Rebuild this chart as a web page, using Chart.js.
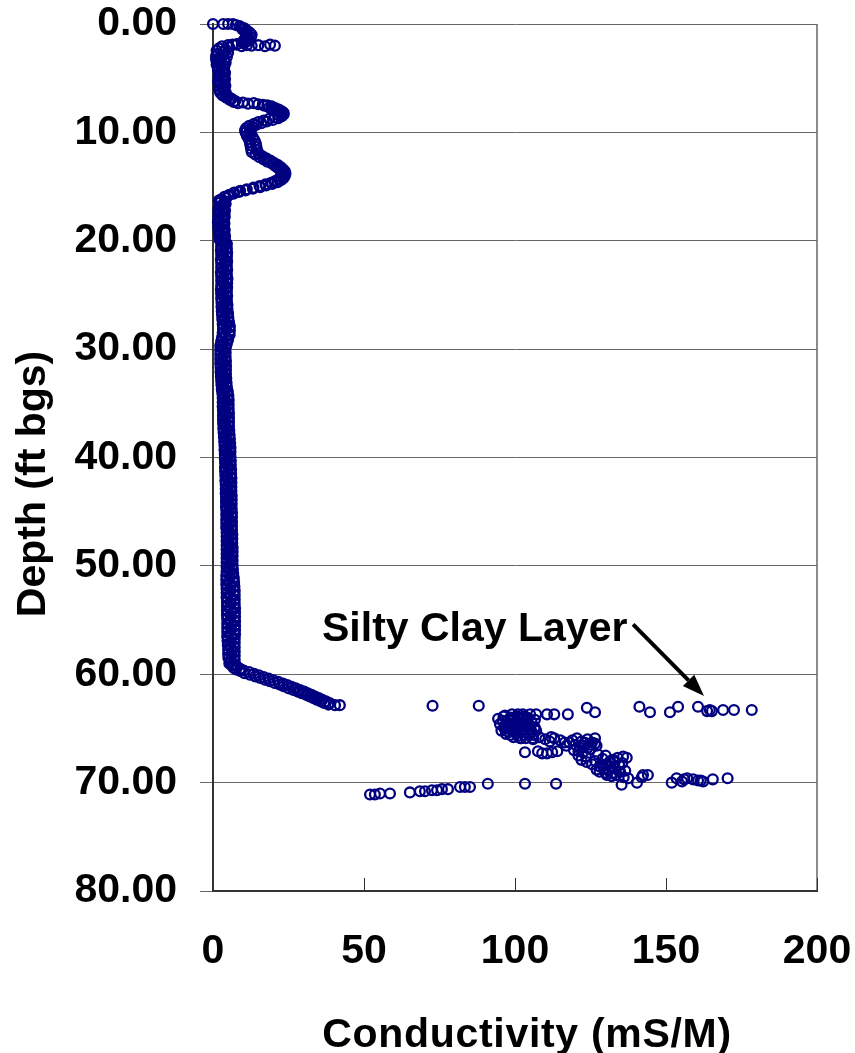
<!DOCTYPE html>
<html>
<head>
<meta charset="utf-8">
<title>Conductivity vs Depth</title>
<script src="https://cdn.jsdelivr.net/npm/chart.js@4.4.1/dist/chart.umd.min.js"></script>
<style>
  html, body { margin: 0; padding: 0; background: #fff; }
  canvas { display: block; }
</style>
</head>
<body>
<canvas id="logChart" width="855" height="1053"></canvas>
<script>
// [conductivity (mS/M), depth (ft bgs)]
const upperTrace = [
  [0.0,0.00],[3.4,0.00],[5.0,0.00],[6.6,0.00],[7.6,0.10],[8.8,0.20],[9.4,0.30],[10.4,0.40],[9.8,0.50],[11.2,0.60],
  [10.6,0.70],[12.2,0.80],[11.0,0.90],[12.8,1.00],[11.4,1.10],[12.6,1.20],[10.8,1.30],[12.0,1.40],[10.2,1.50],[11.4,1.60],
  [9.6,1.70],[10.2,1.80],[8.0,1.85],[6.5,1.90],
  [7.8,1.90],[9.5,2.05],[11.2,1.95],[12.8,2.00],[15.0,1.95],[17.2,2.05],[18.9,1.90],[20.5,2.00],
  [5.0,1.95],[3.0,2.05],[5.4,2.15],[2.0,2.25],[4.2,2.35],[1.2,2.45],[3.4,2.55],[5.0,2.65],[1.6,2.75],[3.6,2.85],
  [1.0,2.95],[4.6,3.05],[2.4,3.15],[1.0,3.25],[3.8,3.35],[1.6,3.45],[4.2,3.55],[2.2,3.65],[1.2,3.75],[3.8,3.85],
  [2.0,3.95],[3.6,4.10],[1.8,4.25],[3.4,4.40],[2.2,4.55],[3.8,4.70],[2.0,4.85],[3.4,5.00],[1.8,5.15],[3.6,5.30],
  [2.2,5.45],[3.8,5.60],[2.0,5.75],[3.4,5.90],[2.0,6.05],[3.6,6.20],[2.4,6.35],[4.0,6.50],[3.2,6.60],[5.0,6.70],
  [1.6,4.20],[4.0,4.50],[1.8,4.80],[4.0,5.10],[1.7,5.40],[4.1,5.70],[1.9,6.00],[4.2,6.30],
  [4.4,6.80],[6.2,6.90],[5.6,7.00],[7.4,7.10],[6.8,7.20],
  [8.3,7.30],[9.9,7.25],[11.6,7.35],[13.5,7.30],[15.0,7.40],[16.5,7.45],
  [18.0,7.50],[17.0,7.55],[19.4,7.60],[18.6,7.70],[20.6,7.75],[19.8,7.85],[21.8,7.90],[21.0,8.00],[22.8,8.05],[22.0,8.15],
  [23.4,8.20],[22.4,8.30],[23.4,8.35],[21.8,8.45],[22.8,8.50],[20.4,8.60],[21.6,8.70],[18.6,8.75],[19.8,8.85],[16.8,8.90],
  [17.8,9.00],[15.0,9.05],[16.0,9.15],[13.6,9.20],[14.4,9.30],[12.0,9.40],[13.2,9.50],[11.0,9.60],[12.4,9.70],[10.6,9.80],
  [12.2,9.90],[10.8,10.00],[12.6,10.15],[11.2,10.30],[13.2,10.45],[11.8,10.60],[13.8,10.75],[12.2,10.90],[14.2,11.05],[12.4,11.20],
  [14.4,11.35],[12.6,11.50],[14.6,11.65],[12.8,11.80],[15.2,11.95],[14.0,12.05],[16.4,12.20],[15.4,12.30],[17.6,12.40],[16.8,12.50],
  [19.0,12.60],[18.0,12.70],[20.2,12.80],[19.6,12.90],[21.4,13.00],[20.6,13.10],[22.4,13.20],[21.6,13.30],[23.2,13.40],[22.4,13.50],
  [23.8,13.60],[22.8,13.70],[24.0,13.80],[23.0,13.90],[23.8,14.00],[22.4,14.10],[23.4,14.20],[21.8,14.30],[22.6,14.40],[20.6,14.50],
  [21.4,14.60],[19.2,14.65],[19.6,14.75],[17.4,14.80],[17.6,14.90],[15.4,14.95],[15.6,15.05],[13.4,15.10],[13.2,15.20],[11.2,15.25],
  [10.8,15.35],[9.0,15.40],[8.6,15.50],[7.0,15.55],[6.8,15.65],[5.4,15.75],[5.0,15.85],[3.8,15.95],[4.4,16.05],[2.6,16.20],
  [4.0,16.35],[2.2,16.50],[3.8,16.65],[2.4,16.80],[3.6,16.95],[1.8,17.10],[3.4,17.25],[2.2,17.40],[3.8,17.55],[1.8,17.70],
  [3.4,17.85],[2.0,18.00],[3.6,18.15],[1.6,18.30],[3.2,18.45],[2.0,18.60],[3.6,18.75],[1.8,18.90],[3.4,19.05],[2.0,19.20],
  [3.8,19.35],[2.0,19.50],[3.4,19.65],[2.2,19.80],[3.8,19.95],
  [1.9,16.30],[4.2,16.60],[2.0,16.90],[4.0,17.20],[1.8,17.50],[3.9,17.80],[1.7,18.10],[3.8,18.40],[1.8,18.70],[3.9,19.00],
  [2.0,19.30],[4.0,19.60],[2.2,19.90]
];

const middleTrace = [
  [2.8,20.0],[4.4,20.2],[3.6,20.4],[2.8,20.6],[4.4,20.8],[3.4,21.0],[2.9,21.2],[4.5,21.4],[3.6,21.6],[2.8,21.8],
  [4.4,22.0],[3.7,22.2],[2.9,22.4],[4.5,22.6],[3.6,22.8],[2.8,23.0],[4.4,23.2],[3.5,23.4],[2.9,23.6],[4.6,23.8],
  [3.7,24.0],[2.9,24.2],[4.5,24.4],[3.6,24.6],[2.8,24.8],[4.4,25.0],[3.6,25.2],[2.9,25.4],[4.5,25.6],[3.7,25.8],
  [3.0,26.0],[4.6,26.2],[3.8,26.4],[3.0,26.6],[4.8,26.8],[3.9,27.0],[3.2,27.2],[5.0,27.4],[4.2,27.6],[3.4,27.8],
  [5.4,28.0],[4.4,28.2],[3.4,28.4],[5.4,28.6],[4.2,28.8],[3.2,29.0],[4.8,29.2],[3.6,29.4],[2.7,29.6],[4.2,29.8],
  [3.3,30.0],[2.6,30.2],[4.0,30.4],[3.3,30.6],[2.6,30.8],[4.0,31.0],[3.2,31.2],[2.6,31.4],[4.1,31.6],[3.3,31.8],
  [2.7,32.0],[4.1,32.2],[3.4,32.4],[2.8,32.6],[4.2,32.8],[3.5,33.0],[2.9,33.2],[4.4,33.4],[3.7,33.6],[3.1,33.8],
  [4.7,34.0],[3.9,34.2],[3.3,34.4],[4.9,34.6],[4.1,34.8],[3.4,35.0],[5.0,35.2],[4.2,35.4],[3.4,35.6],[5.0,35.8],
  [4.2,36.0],[3.5,36.2],[5.1,36.4],[4.2,36.6],[3.4,36.8],[5.0,37.0],[4.3,37.2],[3.6,37.4],[5.2,37.6],[4.4,37.8],
  [3.7,38.0],[5.3,38.2],[4.5,38.4],[3.9,38.6],[5.5,38.8],[4.7,39.0],[4.0,39.2],[5.6,39.4],[4.8,39.6],[4.0,39.8],
  [5.6,40.0],[4.8,40.2],[4.1,40.4],[5.6,40.6],[4.9,40.8],[4.1,41.0],[5.7,41.2],[4.9,41.4],[4.2,41.6],[5.8,41.8],
  [5.0,42.0],[4.2,42.2],[5.8,42.4],[5.0,42.6],[4.3,42.8],[5.8,43.0],[5.1,43.2],[4.3,43.4],[5.9,43.6],[5.1,43.8],
  [4.4,44.0],[5.9,44.2],[5.2,44.4],[4.4,44.6],[5.9,44.8],[5.2,45.0],[4.5,45.2],[6.0,45.4],[5.2,45.6],[4.5,45.8],
  [6.0,46.0],[5.3,46.2],[4.5,46.4],[6.0,46.6],[5.3,46.8],[4.6,47.0],[6.1,47.2],[5.3,47.4],[4.6,47.6],[6.1,47.8],
  [5.4,48.0],[4.7,48.2],[6.2,48.4],[5.4,48.6],[4.7,48.8],[6.2,49.0],[5.5,49.2],[4.7,49.4],[6.2,49.6],[5.5,49.8],
  [4.7,50.0],[6.3,50.2],[5.5,50.4],[4.7,50.6],[6.4,50.8],[5.6,51.0],[4.6,51.2],[6.6,51.4],[5.6,51.6],[4.6,51.8],
  [6.8,52.0],[5.7,52.2],[4.7,52.4],[6.9,52.6],[5.8,52.8],[4.7,53.0],[7.0,53.2],[5.8,53.4],[4.8,53.6],[7.0,53.8],
  [5.9,54.0],[4.8,54.2],[7.0,54.4],[5.9,54.6],[4.8,54.8],[7.0,55.0],[5.9,55.2],[4.9,55.4],[7.1,55.6],[6.0,55.8],
  [4.9,56.0],[7.0,56.2],[6.0,56.4],[4.9,56.6],[7.0,56.8],[5.9,57.0],[5.0,57.2],[7.0,57.4],[6.0,57.6],[5.2,57.8],
  [7.0,58.0],[6.1,58.2],[5.2,58.4],[7.0,58.6],[6.1,58.8]
];

// the in-between readings that give the trace its width
const middleSpread = [
  [2.6,20.1],[4.6,20.3],[2.7,20.5],[4.6,20.7],[2.6,20.9],[4.7,21.1],[2.7,21.3],[4.6,21.5],[2.6,21.7],[4.7,21.9],
  [2.7,22.1],[4.6,22.3],[2.7,22.5],[4.7,22.7],[2.6,22.9],[4.6,23.1],[2.7,23.3],[4.8,23.5],[2.7,23.7],[4.7,23.9],
  [2.7,24.1],[4.7,24.3],[2.6,24.5],[4.6,24.7],[2.7,24.9],[4.7,25.1],[2.7,25.3],[4.6,25.5],[2.8,25.7],[4.8,25.9],
  [2.8,26.1],[4.8,26.3],[2.9,26.5],[5.0,26.7],[3.0,26.9],[5.1,27.1],[3.1,27.3],[5.3,27.5],[3.2,27.7],[5.6,27.9],
  [3.3,28.1],[5.6,28.3],[3.2,28.5],[5.5,28.7],[3.0,28.9],[5.0,29.1],[2.7,29.3],[4.6,29.5],[2.4,29.7],[4.2,29.9],
  [2.4,30.1],[4.2,30.3],[2.4,30.5],[4.2,30.7],[2.4,30.9],[4.3,31.1],[2.4,31.3],[4.3,31.5],[2.5,31.7],[4.3,31.9],
  [2.5,32.1],[4.3,32.3],[2.6,32.5],[4.4,32.7],[2.7,32.9],[4.5,33.1],[2.8,33.3],[4.6,33.5],[2.9,33.7],[4.9,33.9],
  [3.1,34.1],[5.1,34.3],[3.2,34.5],[5.2,34.7],[3.2,34.9],[5.2,35.1],[3.2,35.3],[5.2,35.5],[3.3,35.7],[5.3,35.9],
  [3.3,36.1],[5.3,36.3],[3.3,36.5],[5.3,36.7],[3.4,36.9],[5.3,37.1],[3.4,37.3],[5.4,37.5],[3.5,37.7],[5.5,37.9],
  [3.6,38.1],[5.6,38.3],[3.7,38.5],[5.7,38.7],[3.8,38.9],[5.8,39.1],[3.8,39.3],[5.8,39.5],[3.9,39.7],[5.8,39.9],
  [3.9,40.1],[5.9,40.3],[4.0,40.5],[5.9,40.7],[4.0,40.9],[6.0,41.1],[4.0,41.3],[6.0,41.5],[4.1,41.7],[6.1,41.9],
  [4.1,42.1],[6.1,42.3],[4.2,42.5],[6.1,42.7],[4.2,42.9],[6.1,43.1],[4.2,43.3],[6.2,43.5],[4.3,43.7],[6.2,43.9],
  [4.3,44.1],[6.2,44.3],[4.3,44.5],[6.2,44.7],[4.4,44.9],[6.3,45.1],[4.4,45.3],[6.3,45.5],[4.4,45.7],[6.3,45.9],
  [4.4,46.1],[6.3,46.3],[4.4,46.5],[6.3,46.7],[4.5,46.9],[6.4,47.1],[4.5,47.3],[6.4,47.5],[4.5,47.7],[6.4,47.9],
  [4.5,48.1],[6.5,48.3],[4.5,48.5],[6.5,48.7],[4.5,48.9],[6.5,49.1],[4.5,49.3],[6.5,49.5],[4.5,49.7],[6.5,49.9],
  [4.5,50.1],[6.6,50.3],[4.5,50.5],[6.7,50.7],[4.4,50.9],[6.9,51.1],[4.4,51.3],[7.0,51.5],[4.4,51.7],[7.1,51.9],
  [4.5,52.1],[7.2,52.3],[4.5,52.5],[7.2,52.7],[4.5,52.9],[7.2,53.1],[4.6,53.3],[7.2,53.5],[4.6,53.7],[7.3,53.9],
  [4.6,54.1],[7.3,54.3],[4.6,54.5],[7.3,54.7],[4.7,54.9],[7.3,55.1],[4.7,55.3],[7.3,55.5],[4.7,55.7],[7.3,55.9],
  [4.7,56.1],[7.3,56.3],[4.7,56.5],[7.2,56.7],[4.8,56.9],[7.2,57.1],[4.9,57.3],[7.2,57.5],[5.0,57.7],[7.2,57.9],
  [5.0,58.1],[7.2,58.3],[5.1,58.5],[7.2,58.7],[5.6,58.9]
];

const rampTrace = [
  [5.4,59.00],[7.2,59.10],[6.2,59.20],[8.0,59.30],[6.8,59.40],[9.0,59.50],[7.6,59.55],[10.2,59.65],[9.0,59.70],[12.0,59.80],
  [10.4,59.90],[13.6,59.95],[12.2,60.05],[15.2,60.10],[14.0,60.20],[16.8,60.25],[15.6,60.35],[18.4,60.40],[17.2,60.50],[20.0,60.55],
  [18.8,60.65],[21.6,60.70],[20.4,60.80],[23.2,60.85],[22.0,60.95],[24.6,61.00],[23.4,61.10],[26.0,61.15],[25.0,61.30],[27.4,61.30],
  [26.6,61.45],[28.8,61.45],[28.0,61.60],[30.2,61.60],[29.4,61.75],[31.4,61.75],[30.8,61.90],[32.6,61.90],[32.0,62.05],[33.8,62.05],
  [33.2,62.20],[35.0,62.20],[34.4,62.35],[36.2,62.35],[35.6,62.50],[37.4,62.50],[36.8,62.65],[38.6,62.65],[38.2,62.80],[40.4,62.85],
  [42.0,62.85]
];

const clayLayer = [
  [72.7,62.9],[88.0,62.9],[123.8,63.1],[126.5,63.5],[141.2,63.0],[144.7,63.5],[151.3,63.5],[154.0,63.0],[160.6,63.0],[163.6,63.4],
  [164.5,63.3],[165.2,63.4],[168.9,63.3],[172.5,63.3],[178.4,63.3],
  [94.4,64.1],[96.7,63.8],[99.0,63.7],[101.0,63.7],[102.6,63.7],[105.0,63.7],[107.0,63.7],[110.6,63.7],[113.0,63.7],[117.5,63.7],
  [96.0,64.3],[97.5,64.6],[96.5,65.0],[98.0,65.3],[98.5,64.0],[100.0,64.5],[101.5,64.9],[100.5,65.4],[99.5,65.8],[102.0,64.2],
  [103.5,64.7],[104.5,65.1],[103.0,65.6],[105.5,64.4],[106.5,64.9],[105.5,65.3],[102.0,65.9],[106.0,66.0],[98.8,65.0],[104.0,64.0],
  [97.0,65.5],[95.0,64.6],[95.5,65.2],[96.2,63.9],[97.0,64.9],[97.8,64.2],[98.4,65.6],[99.0,64.8],[99.6,64.1],[100.2,65.1],
  [101.0,65.7],[101.4,64.4],[102.4,65.3],[102.8,64.6],[103.6,65.9],[104.2,64.2],[104.8,65.5],[105.2,64.8],[106.0,65.6],[106.6,64.2],
  [107.0,65.2],[103.0,63.9],[100.8,63.9],[99.2,65.3],[101.8,65.9],[105.8,65.9],
  [108.0,65.8],[110.0,66.0],[111.5,66.2],[113.0,65.9],[115.0,66.1],[116.5,66.3],[112.0,65.8],
  [103.3,67.2],[107.6,67.1],[109.0,67.3],[110.6,67.3],[112.3,67.2],[114.0,67.1],
  [118.0,66.3],[117.0,66.6],[120.0,66.5],[121.5,66.8],[119.5,67.0],[123.0,66.3],[125.0,66.5],[126.5,66.4],[124.0,66.8],[122.5,67.2],
  [119.0,66.1],[120.5,65.9],[122.0,66.2],[124.0,66.0],[125.5,66.3],[126.5,65.9],[127.0,66.6],[125.0,66.9],[123.0,66.6],[121.0,67.1],
  [121.0,67.5],[123.5,67.6],[122.0,67.9],[123.7,68.1],[125.5,68.3],[126.5,68.0],[128.0,68.5],[127.0,68.8],[129.5,68.7],[130.5,68.3],
  [131.5,68.0],[132.5,67.9],[134.0,67.7],[135.8,67.6],[137.0,67.7],[131.0,68.9],[130.0,69.1],[130.4,69.3],[132.5,69.1],[134.8,69.0],
  [133.5,69.3],[133.0,68.6],[134.5,68.4],[129.0,67.8],[127.5,67.4],
  [130.0,67.5],[131.5,68.5],[133.0,68.1],[134.5,69.0],[135.5,68.2],[136.5,68.9],[132.0,69.4],[129.0,68.4],[128.0,69.0],[136.0,69.5],
  [135.3,70.2],[137.5,69.6],[140.4,70.0],[142.0,69.5],[144.0,69.3],[142.4,69.3],[151.9,70.0],[153.5,69.6],[155.3,69.9],[157.0,69.6],
  [159.0,69.7],[160.6,69.8],[162.3,69.9],[165.5,69.7],[170.4,69.6],[161.5,69.8],[156.0,69.7],
  [91.0,70.1],[103.3,70.1],[113.6,70.1],[81.8,70.4],[83.4,70.4],[85.1,70.4],[77.8,70.6],[75.8,70.6],[74.2,70.7],[72.5,70.7],
  [70.2,70.8],[68.5,70.8],[65.2,70.9],[58.6,71.0],[55.3,71.0],[53.6,71.1],[52.0,71.1]
];

const xTicks = { min: 0, max: 200, step: 50 };
const yTicks = { min: 0, max: 80, step: 10 };
const xTitle = 'Conductivity (mS/M)';
const yTitle = 'Depth (ft bgs)';
const calloutText = 'Silty Clay Layer';
const calloutAt = [36.1, 56.9];     // text start, in data units
const arrowFrom = [139.1, 55.4];
const arrowTo = [162.6, 62.0];

const FONT = '"Liberation Sans", Arial, Helvetica, sans-serif';
const NAVY = '#000080';

const toXY = p => ({ x: p[0], y: p[1] });
const allPoints = [].concat(upperTrace, middleTrace, middleSpread, rampTrace, clayLayer).map(toXY);

/* extra drawing: inward x ticks, axis titles, callout */
const overlay = {
  id: 'overlay',
  afterDraw(chart){
    const { ctx, scales: { x, y } } = chart;
    ctx.save();
    ctx.strokeStyle = '#333';
    ctx.lineWidth = 1;
    x.ticks.forEach(t => {
      const px = Math.round(x.getPixelForValue(t.value)) + 0.5;
      ctx.beginPath();
      ctx.moveTo(px, y.bottom);
      ctx.lineTo(px, y.bottom - 13);
      ctx.stroke();
    });
    ctx.restore();

    // axis titles
    ctx.save();
    ctx.fillStyle = '#000';
    ctx.font = 'bold 41px ' + FONT;
    ctx.textAlign = 'center';
    ctx.textBaseline = 'alphabetic';
    ctx.letterSpacing = '0.7px';
    ctx.fillText(xTitle, 527, 1047);
    ctx.letterSpacing = '0px';
    ctx.translate(45, 484);
    ctx.rotate(-Math.PI / 2);
    ctx.fillText(yTitle, 0, 0);
    ctx.restore();

    // callout text + arrow
    ctx.save();
    ctx.fillStyle = '#000';
    ctx.font = 'bold 41px ' + FONT;
    ctx.textAlign = 'left';
    ctx.textBaseline = 'alphabetic';
    ctx.fillText(calloutText, x.getPixelForValue(calloutAt[0]), y.getPixelForValue(calloutAt[1]));

    const x0 = x.getPixelForValue(arrowFrom[0]), y0 = y.getPixelForValue(arrowFrom[1]);
    const x1 = x.getPixelForValue(arrowTo[0]), y1 = y.getPixelForValue(arrowTo[1]);
    const ang = Math.atan2(y1 - y0, x1 - x0);
    const headLen = 22, headW = 8;
    const bx = x1 - headLen * Math.cos(ang), by = y1 - headLen * Math.sin(ang);
    ctx.strokeStyle = '#000';
    ctx.lineWidth = 4;
    ctx.beginPath();
    ctx.moveTo(x0, y0);
    ctx.lineTo(bx, by);
    ctx.stroke();
    ctx.beginPath();
    ctx.moveTo(x1, y1);
    ctx.lineTo(bx + headW * Math.sin(ang), by - headW * Math.cos(ang));
    ctx.lineTo(bx - headW * Math.sin(ang), by + headW * Math.cos(ang));
    ctx.closePath();
    ctx.fill();
    ctx.restore();
  }
};

const tickFont = { family: FONT, size: 41, weight: 'bold', lineHeight: 1 };

new Chart(document.getElementById('logChart').getContext('2d'), {
  type: 'scatter',
  data: {
    datasets: [{
      label: 'Conductivity',
      data: allPoints,
      pointStyle: 'circle',
      pointRadius: 4.9,
      pointHoverRadius: 4.9,
      borderWidth: 2.3,
      borderColor: NAVY,
      backgroundColor: 'rgba(0,0,0,0)',
      clip: false
    }]
  },
  options: {
    responsive: false,
    animation: false,
    events: [],
    layout: { padding: { top: 24, right: 38, bottom: 0, left: 0 } },
    plugins: { legend: { display: false }, tooltip: { enabled: false } },
    scales: {
      x: {
        type: 'linear',
        position: 'bottom',
        min: xTicks.min, max: xTicks.max,
        ticks: { stepSize: xTicks.step, padding: 40, color: '#000', font: tickFont, maxRotation: 0 },
        grid: {
          drawTicks: false,
          lineWidth: 2,
          color: c => (c.tick && c.tick.value === xTicks.max) ? '#8c8c8c' : 'rgba(0,0,0,0)'
        },
        border: { color: '#333', width: 2 },
        title: { display: false },
        afterFit: s => { s.height = 162; s.paddingLeft = 0; s.paddingRight = 0; }
      },
      y: {
        type: 'linear',
        position: 'left',
        reverse: true,
        min: yTicks.min, max: yTicks.max,
        ticks: { stepSize: yTicks.step, padding: 23, color: '#000', font: tickFont, callback: v => v.toFixed(2) },
        grid: { color: '#666', lineWidth: 1, tickLength: 13 },
        border: { color: '#333', width: 2 },
        afterFit: s => { s.width = 213; s.paddingTop = 0; s.paddingBottom = 0; }
      }
    }
  },
  plugins: [overlay]
});
</script>
</body>
</html>
